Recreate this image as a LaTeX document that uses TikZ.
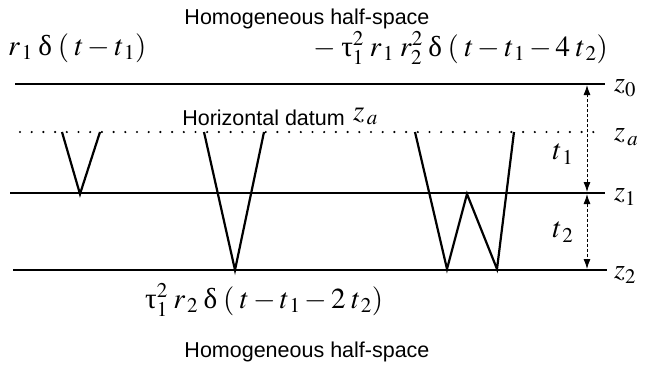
\documentclass[tikz,border=0pt]{standalone}
\usepackage{mathptmx}
\usepackage[no-math]{fontspec}
\setmainfont{Liberation Sans}
\newfontfamily\grk{Liberation Serif}
\newcommand{\gdelta}{\mbox{\grk δ}}
\newcommand{\gtau}{\mbox{\grk τ}}
\newcommand{\gp}{\mkern3.5mu}
\usetikzlibrary{arrows.meta, positioning}
\DeclareMathSizes{29}{29}{21}{15}

\begin{document}
\begin{tikzpicture}[
    x=1pt, y=-1pt,
    every node/.style={inner sep=0pt},
    interface/.style={line width=2.5pt, draw=black},
    datum/.style={line width=2.4pt, draw=black, line cap=round, dash pattern=on 0pt off 11.7pt},
    ray/.style={line width=2.2pt, draw=black, line join=miter},
    gap/.style={{Latex[length=10pt, width=7pt]}-{Latex[length=10pt, width=7pt]}, densely dashed, line width=0.9pt},
    title/.style={font=\fontsize{21.5}{24}\selectfont},
    eqn/.style={font=\fontsize{29}{33}\selectfont},
    zlbl/.style={font=\fontsize{28}{32}\selectfont, anchor=west}
]
\useasboundingbox (0,0) rectangle (646,365);

% ================= INTERFACES =================
\draw[interface] (15,84) coordinate (z0w) -- (605,84) coordinate (z0e);
\draw[datum] (20,132) coordinate (zaw) -- (598,132) coordinate (zae);
\draw[interface] (10,193) coordinate (z1w) -- (605,193) coordinate (z1e);
\draw[interface] (13,270) coordinate (z2w) -- (607,270) coordinate (z2e);

\node[zlbl] (lz0) at (614,88) {$z_0$};
\node[zlbl] (lza) at (614,137) {$z_{\,a}$};
\node[zlbl] (lz1) at (614,197) {$z_1$};
\node[zlbl] (lz2) at (614,275) {$z_2$};

% ================= RAY PATHS =================
\draw[ray] (62,132) -- (80,194) -- (100,132);
\draw[ray] (204,132) -- (235,270) -- (264,132);
\draw[ray] (415,132) -- (447,269) -- (467,194) -- (497,269) -- (514,132);

% ================= LAYER THICKNESS =================
\coordinate (t1top) at (587,85);
\coordinate (t1bot) at (587,192);
\coordinate (t2top) at (587,194);
\coordinate (t2bot) at (587,269);
\draw[gap] (t1bot) -- (t1top);
\draw[gap] (t2top) -- (t2bot);
\node[eqn] (lt1) at (563,154) {$t_{\,1}$};
\node[eqn] (lt2) at (563,232) {$t_{\,2}$};

% ================= LABELS =================
\node[title] (top) at (307,19) {Homogeneous half-space};
\node[title] (bottom) at (307,352) {Homogeneous half-space};
\node[title, anchor=east] (datumlbl) at (345,118) {Horizontal datum};
\node[eqn, anchor=west] (za) at (353,116) {$z_{\,a}$};

\node[eqn, anchor=west] (prim) at (8,48) {$r_{\,1}\gp\gdelta\gp(\gp t - t_{\,1})$};
\node[eqn, anchor=east] (mult) at (608,48) {$-\gp\gtau_1^2\gp r_{\,1}\gp r_2^2\gp\gdelta\gp(\gp t - t_{\,1} - 4\gp t_{\,2})$};
\node[eqn, anchor=west] (sec) at (145,300) {$\gtau_1^2\gp r_{\,2}\gp\gdelta\gp(\gp t - t_{\,1} - 2\gp t_{\,2})$};

\end{tikzpicture}
\end{document}
